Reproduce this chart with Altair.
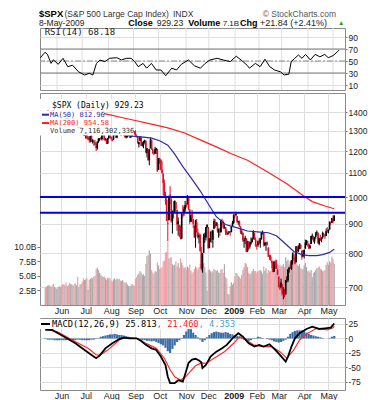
import altair as alt
import pandas as pd

# ---------------- data ----------------
months = ["Jun", "Jul", "Aug", "Sep", "Oct", "Nov", "Dec", "2009", "Feb", "Mar", "Apr", "May"]
month_start = [14, 35, 57, 78, 99, 122, 141, 163, 183, 202, 224, 245]   # trading-day index

open_ = [
    1389,1404,1403,1409,1424,1425,1425,1414,1391,1393,1376,1386,1390,1398,
    1400,1386,1377,1377,1400,1361,1358,1357,1336,1341,1358,1360,1349,1336,1341,1319,1317,1314,1316,1283,1279,
    1276,1285,1262,1263,1252,1274,1245,1249,1242,1227,1215,1246,1258,1261,1257,1278,1283,1253,1258,1236,1264,1281,
    1269,1253,1254,1283,1287,1266,1295,1305,1288,1283,1293,1298,1278,1267,1271,1278,1290,1267,1271,1283,1297,
    1288,1276,1272,1233,1250,1267,1227,1229,1245,1250,1189,1210,1157,1213,1255,1207,1188,1187,1205,1210,1114,
    1164,1160,1115,1098,1057,989,988,903,912,1010,994,909,942,943,980,951,899,895,874,849,939,940,953,
    969,971,1001,952,907,937,917,893,854,905,870,853,860,806,755,802,853,852,886,
    888,817,843,869,844,882,906,893,898,871,881,871,908,905,887,888,874,863,869,873,870,890,
    903,930,931,927,905,909,890,869,868,841,845,849,806,839,822,832,837,846,868,845,
    823,826,838,832,846,868,867,827,831,833,819,791,790,776,773,744,771,766,749,
    730,705,699,708,684,681,680,720,719,751,758,753,776,797,784,772,820,806,814,828,809,790,
    793,815,835,840,831,816,830,856,857,839,854,866,868,831,847,844,853,862,854,857,876,
    873,879,906,903,919,910]
high = [
    1404,1406,1420,1424,1426,1441,1426,1419,1401,1395,1388,1392,1406,1404,
    1400,1397,1389,1405,1400,1370,1366,1358,1353,1361,1366,1367,1349,1348,1342,1323,1326,1336,1316,1288,1291,
    1285,1292,1272,1273,1275,1278,1258,1254,1254,1234,1246,1262,1263,1268,1278,1291,1283,1263,1260,1264,1285,1285,
    1271,1260,1285,1292,1289,1297,1314,1309,1294,1301,1302,1301,1280,1277,1281,1294,1290,1276,1289,1301,1297,
    1303,1280,1273,1244,1274,1268,1243,1249,1255,1250,1214,1210,1211,1266,1255,1213,1197,1220,1215,1210,1167,
    1169,1160,1154,1098,1072,1021,1006,936,1006,1044,994,948,984,986,980,951,922,896,893,941,969,963,985,
    976,1007,1001,952,932,951,917,893,914,917,882,866,865,821,801,865,868,888,897,
    888,850,873,876,879,918,916,906,904,883,885,914,918,911,897,888,880,869,873,873,891,910,
    934,936,943,927,910,911,890,877,868,851,858,849,841,839,838,852,851,877,868,852,
    830,842,851,850,871,876,869,838,836,839,819,796,796,779,777,776,780,780,752,
    730,711,724,708,700,695,720,731,752,758,775,779,803,803,788,823,824,826,833,828,809,810,
    813,845,843,840,832,828,857,865,857,853,871,876,868,851,861,852,872,868,864,883,888,
    880,907,907,920,930,930]
low = [
    1386,1396,1402,1406,1415,1419,1406,1388,1389,1372,1372,1378,1388,1396,
    1377,1370,1370,1374,1359,1351,1351,1335,1333,1341,1350,1350,1333,1330,1315,1314,1305,1314,1283,1273,1273,
    1260,1261,1253,1240,1242,1244,1236,1225,1226,1200,1206,1239,1248,1255,1251,1276,1251,1251,1234,1234,1259,1264,
    1252,1247,1254,1276,1264,1262,1293,1289,1275,1276,1290,1275,1264,1261,1265,1278,1264,1263,1270,1283,1282,
    1272,1266,1237,1217,1247,1224,1221,1213,1236,1192,1170,1155,1134,1213,1206,1187,1180,1187,1187,1106,1114,
    1141,1112,1098,1007,996,970,909,840,912,972,903,865,919,938,952,875,858,853,846,846,922,928,944,
    959,971,949,899,906,907,884,850,818,869,848,832,806,748,741,801,834,842,886,
    815,817,836,834,818,882,885,892,868,851,857,868,895,881,882,860,860,861,866,858,870,890,
    899,919,927,902,896,888,864,862,837,818,830,804,804,811,815,828,835,846,844,821,
    812,821,829,818,845,862,822,823,808,825,789,780,777,755,742,744,752,752,735,
    699,692,699,677,667,672,680,713,714,741,753,749,765,781,766,772,806,805,814,814,780,790,
    784,815,826,822,814,815,830,845,836,831,848,860,832,826,840,836,848,852,847,857,868,
    866,879,897,903,901,909]
close = [
    1403.6,1403.0,1408.7,1423.6,1425.4,1426.6,1413.4,1390.7,1394.4,1375.9,1385.4,1390.8,1398.3,1400.4,
    1385.7,1377.7,1377.2,1404.1,1360.7,1361.8,1358.4,1335.5,1339.9,1360.0,1360.1,1350.9,1337.8,1342.8,1317.9,1318.0,1314.3,1322.0,1283.2,1278.4,1280.0,
    1284.9,1261.5,1262.9,1252.3,1273.7,1244.7,1253.4,1239.5,1228.3,1214.9,1245.4,1260.3,1260.7,1260.0,1277.0,1282.2,1252.5,1257.8,1234.4,1263.2,1284.3,1267.4,
    1260.3,1249.0,1284.9,1289.2,1266.1,1296.3,1305.3,1289.6,1285.8,1292.9,1298.2,1278.6,1266.7,1274.5,1277.7,1292.2,1266.8,1271.5,1281.7,1300.7,1282.8,
    1277.6,1275.0,1236.8,1242.3,1267.8,1224.5,1232.0,1249.1,1251.7,1192.7,1213.6,1156.4,1206.5,1255.1,1207.1,1188.2,1185.9,1209.2,1213.3,1106.4,1166.4,
    1161.1,1114.3,1099.2,1056.9,996.2,984.9,909.9,899.2,1003.4,998.0,907.8,946.4,940.6,985.4,955.1,896.8,908.1,876.8,848.9,940.5,930.1,954.1,968.8,
    966.3,1005.8,952.8,904.9,931.0,919.2,899.0,852.3,911.3,873.3,850.8,859.1,806.6,752.4,800.0,851.8,857.4,887.7,896.2,
    816.2,848.8,870.7,845.2,876.1,909.7,888.7,899.2,873.6,879.7,868.6,913.2,904.4,885.3,887.9,871.6,863.2,868.2,872.8,869.4,890.6,903.3,
    931.8,927.5,934.7,906.7,909.7,890.4,870.3,871.8,842.6,843.7,850.1,805.2,840.2,827.5,832.0,836.6,845.7,874.1,845.1,825.9,
    825.4,838.5,832.2,845.9,868.6,869.9,827.2,833.7,835.2,826.8,789.2,788.4,778.9,770.1,743.3,773.1,764.9,752.8,735.1,
    700.8,696.3,712.9,682.5,683.4,676.5,719.6,721.4,750.7,756.6,753.9,778.1,794.4,784.0,768.5,822.9,806.1,813.9,832.9,815.9,787.5,797.9,
    811.1,834.4,842.5,835.5,815.6,825.2,856.6,858.7,841.5,852.1,865.3,869.6,832.4,850.1,843.6,851.9,866.2,857.5,855.2,873.6,872.8,
    877.5,907.2,903.8,919.5,907.4,929.23]
volume = [  # billions
    3.0,3.2,3.3,3.4,3.3,3.1,3.4,3.6,3.1,2.9,2.8,3.0,3.2,3.1,
    3.4,3.5,3.6,3.4,3.9,3.2,3.4,3.8,3.6,3.5,3.3,3.6,3.7,3.4,4.8,3.1,3.5,3.6,4.0,4.6,4.3,
    4.4,4.6,2.6,4.3,4.5,4.7,4.6,4.9,5.0,6.2,6.4,6.0,5.5,5.2,5.0,4.8,4.9,4.6,4.3,4.7,4.5,4.7,
    4.2,4.0,4.4,4.6,4.3,4.5,4.4,4.5,4.2,4.1,4.3,3.9,3.8,3.9,3.5,3.3,3.2,3.3,3.6,3.4,3.3,
    4.5,4.8,5.2,5.4,5.8,5.6,5.1,5.3,5.0,7.1,8.4,8.6,9.4,8.8,6.0,5.6,5.3,5.8,5.7,7.3,6.8,
    6.2,6.3,6.5,7.5,7.6,9.0,9.1,10.9,8.0,8.1,8.2,7.0,6.8,6.9,7.5,6.6,7.2,6.4,8.0,7.3,6.8,6.3,6.5,
    6.0,6.6,6.4,6.9,5.9,5.4,5.7,6.2,6.6,6.4,6.0,6.5,7.1,8.6,8.9,7.2,6.5,5.6,2.5,
    6.0,6.1,5.8,5.6,5.8,6.2,6.0,5.9,6.0,5.6,5.5,6.1,6.2,5.5,7.0,4.8,4.5,1.9,1.8,3.2,3.9,3.5,
    3.8,4.8,5.5,5.4,5.0,4.8,4.5,5.2,6.0,6.5,7.2,7.0,6.5,5.5,5.3,5.4,5.8,6.2,5.8,5.9,
    5.6,5.8,5.9,6.0,5.8,5.4,6.6,5.9,6.3,5.5,6.0,5.8,5.9,6.5,7.0,7.1,6.9,6.4,7.0,
    6.8,6.9,6.6,6.8,7.0,6.5,8.2,7.5,7.8,6.9,7.0,7.2,8.0,7.6,7.4,7.3,6.9,6.7,7.0,6.3,6.1,6.2,
    6.8,7.2,6.5,5.8,5.9,5.6,6.0,4.8,5.5,5.7,6.0,6.3,6.4,6.6,6.2,6.1,5.8,5.9,6.0,6.9,7.4,
    6.9,7.5,7.3,8.3,7.9,7.1]

ma50_day = [49,60,70,78,85,92,99,106,112,119,126,134,142,148,156,167,175,186,193,200,208,215,222,228,235,240,246,250]
ma50_val = [1330,1295,1277,1272,1268,1263,1250,1228,1185,1128,1080,1025,966,925,897,884,874,870,868,858,830,806,796,793,793,796,803,812.96]
ma200_day = [0,20,40,52,70,92,106,120,134,148,161,175,192,209,223,231,242,250]
ma200_val = [1440,1425,1405,1390,1365,1335,1315,1290,1254,1220,1187,1157,1105,1054,1006,982,965,954.58]
levels = [1000, 940]

rsi_day = [0,4,6,9,11,15,19,23,27,32,37,41,44,47,50,54,58,64,68,72,76,79,82,86,89,93,97,101,105,110,
           114,118,124,129,134,138,142,148,153,159,164,169,173,175,180,184,188,192,196,201,204,208,210,213,216,
           219,222,226,230,234,238,241,245,249,250]
rsi_val = [55.5,64.5,61,46,52,44.5,54.5,40.5,43,32,26.7,29.5,26.7,46,51.7,49,54.5,55.5,51.7,54.5,54.5,49,40.5,46,38,46,35,35,25.5,38,
           35,44.5,51.7,42,38,46,51.7,54.5,51.7,49,58,50,43,38,46,40.5,53,40.5,35,32,26.7,28,49,54.5,60,
           54.5,61,51.7,61,57,61,55.5,59,66,68.18]
rsi_bands = [30, 70]
rsi_mid = [50]

macd_day = [0,6,11,19,26,34,40,44,47,52,58,64,68,73,79,83,87,92,96,100,104,106,108,112,115,119,122,124,127,130,
            133,135,136,139,143,148,153,157,162,167,171,176,181,185,189,194,199,203,208,210,213,216,220,226,231,237,242,247,250]
macd_val = [15,14.7,9,0,-8.3,-19.8,-28.4,-34,-29.6,-17,-8.3,-1,1.4,0.3,0.3,-4.3,-11,-17,-19.8,-31,-45.7,-66,-77,-77,-72,-74.5,-55,-42,-36.5,-35,
            -38,-41,-51,-45.7,-31.3,-22.7,-17,-11,0.3,9,3,-8.3,-14,-11,-14,-10,-19.8,-28.4,-40,-31.3,-14,0.3,9,16.4,20.3,16.4,17.6,18.6,25.813]
signal_day = [0,11,26,37,44,47,54,65,70,79,87,96,103,108,112,117,121,126,130,135,139,146,155,163,168,174,180,188,196,203,209,215,220,227,235,244,249,250]
signal_val = [16.5,11,-5.5,-17,-28,-29,-20,-1,1.4,0.3,-8.3,-17,-34,-54,-66,-71.5,-67,-56,-47,-42,-43,-34,-22.7,-8.3,3,-2.6,-11,-14,-14,-22.7,-34,-19.8,-2.6,9,17.6,14.7,18.6,21.46]
hist_day = list(range(0, 251, 2))
hist_val = [-1,-2,-2,-2,-3,-3,-3,-3,-3,-3,
            -2,-3,-3,-3,-2,-2,-3,-3,-3,-3,
            -2,-2,-1,1,3,4,5,6,7,7,
            8,7,6,6,5,4,3,2,1,0,
            -1,-2,-3,-3,-4,-4,-5,-4,-6,-8,
            -10,-12,-16,-22,-25,-18,-12,-6,-3,1,
            6,12,18,16,10,6,2,-2,-6,-3,
            2,6,9,11,12,11,10,10,11,10,
            8,7,5,4,3,1,-2,-4,-4,-3,
            -1,1,3,2,1,0,-1,-2,-3,-5,
            -6,-7,-6,-4,-2,3,8,11,13,14,
            14,14,13,10,8,6,5,4,3,2,
            1,0,0,1,3,4.353]

n = len(close)
assert len(open_) == len(high) == len(low) == len(volume) == n
assert len(hist_day) == len(hist_val)
up = [close[0] >= open_[0]] + [close[k] >= close[k - 1] for k in range(1, n)]
df = pd.DataFrame({"i": list(range(n)), "open": open_, "high": high, "low": low,
                   "close": close, "vol": volume, "up": up})

# ---------------- styling helpers ----------------
GRID = "#dedede"
SANS = "Liberation Sans"
MONO = "DejaVu Sans Mono"
W = 305
UPC, DNC = "#000000", "#e0102a"
MA50C, MA200C = "#2b2ba8", "#ff2020"
ONE = pd.DataFrame({"k": [0]})

XS = alt.Scale(domain=[-0.25, 255], nice=False, zero=False)
names = ",".join("'%s'" % m for m in months)
starts = ",".join(str(s) for s in month_start)
LABEL_EXPR = "[%s][indexof([%s], datum.value)]" % (names, starts)

X_AXIS = alt.Axis(values=month_start, grid=True, gridColor=GRID, gridWidth=1, ticks=False,
                  tickSize=0, domain=False, title=None, labels=True, labelExpr=LABEL_EXPR,
                  labelPadding=1.5, labelFontSize=9, labelFont=SANS, labelColor="#222",
                  labelFlush=False, labelOverlap=False,
                  labelFontWeight={"condition": {"test": "datum.value == 163", "value": "bold"},
                                   "value": "normal"})


def X(show=True):
    return alt.X("i:Q", scale=XS, axis=X_AXIS if show else None)


def right_axis(values, expr=None):
    kw = dict(orient="right", values=values, grid=True, gridColor=GRID, tickSize=2,
              tickColor="#777", labelPadding=1, labelFontSize=8.5, labelFont=SANS,
              labelColor="#222", domain=False, title=None)
    if expr:
        kw["labelExpr"] = expr
    return alt.Axis(**kw)


def txt(s, x, y, size, color="#222", weight="normal", font=SANS, align="left", baseline="alphabetic"):
    return alt.Chart(ONE).mark_text(text=s, fontSize=size, color=color, fontWeight=weight,
                                    font=font, align=align, baseline=baseline).encode(
        x=alt.value(x), y=alt.value(y))


def box(x1, x2, y1, y2):
    return alt.Chart(ONE).mark_rect(color="white").encode(
        x=alt.value(x1), x2=alt.value(x2), y=alt.value(y1), y2=alt.value(y2))


def seg(x1, x2, y, color, w):
    return alt.Chart(ONE).mark_rule(color=color, strokeWidth=w).encode(
        x=alt.value(x1), x2=alt.value(x2), y=alt.value(y))


# ---------------- RSI panel (with header) ----------------
RY = alt.Scale(domain=[1.67, 105], nice=False, zero=False)
RAX = right_axis([10, 30, 50, 70, 90])
rsi_grid = alt.Chart(pd.DataFrame({"i": month_start})).mark_rule(color=GRID, strokeWidth=1).encode(
    x=X(False))
rsi_line = alt.Chart(pd.DataFrame({"i": rsi_day, "v": rsi_val})).mark_line(
    color="black", strokeWidth=1).encode(x=X(False), y=alt.Y("v:Q", scale=RY, axis=RAX))
rsi_lv = alt.Chart(pd.DataFrame({"v": rsi_bands})).mark_rule(color="#7a7a7a", strokeWidth=1).encode(
    y=alt.Y("v:Q", scale=RY, axis=RAX))
rsi_m = alt.Chart(pd.DataFrame({"v": rsi_mid})).mark_rule(
    color="#8a8a8a", strokeWidth=1, strokeDash=[6, 2, 2, 2]).encode(y=alt.Y("v:Q", scale=RY, axis=RAX))

header = [
    txt("$SPX", -1, -19, 9.5, "#000", "bold", baseline="top"),
    txt("(S&P 500 Large Cap Index)", 24.5, -18.4, 8.5, "#333", baseline="top"),
    txt("INDX", 133, -18.4, 8.5, "#333", baseline="top"),
    txt("\u00a9 StockCharts.com", 296, -18.4, 8.5, "#555", align="right", baseline="top"),
    txt("8-May-2009", -1, -2.3, 8.5, "#222"),
    txt("Close", 88.3, -2.3, 9, "#000", "bold"),
    txt("929.23", 116.7, -2.3, 8.7, "#222"),
    txt("Volume", 148.3, -2.3, 9, "#000", "bold"),
    txt("7.1B", 182.7, -2.3, 8, "#222"),
    txt("Chg", 200, -2.3, 9, "#000", "bold"),
    txt("+21.84 (+2.41%)", 220, -2.3, 9, "#222"),
    txt("\u25b2", 298, -2.8, 6.5, "#2a9d2a"),
    txt("RSI(14) 68.18", 4.7, 4, 9, "#222", font=MONO, baseline="middle"),
]
rsi_chart = alt.layer(rsi_grid, rsi_lv, rsi_m, rsi_line, *header).properties(width=W, height=62)

# ---------------- price panel ----------------
PY = alt.Scale(type="log", domain=[652, 1510], nice=False, zero=False)
PAX = right_axis([700, 800, 900, 1000, 1100, 1200, 1300, 1400], "'' + datum.value")
candle_color = alt.condition("datum.up", alt.value(UPC), alt.value(DNC))
vol_color = alt.condition("datum.up", alt.value("#a9a9a9"), alt.value("#f2a0a8"))

base = alt.Chart(df)
vol = base.mark_bar(size=1.2, clip=True).encode(
    x=X(),
    y=alt.Y("vol:Q", scale=alt.Scale(domain=[0, 36.4], nice=False),
            axis=alt.Axis(orient="left", values=[2.5, 5, 7.5, 10],
                          labelExpr="format(datum.value, '.1f') + 'B'", grid=False,
                          tickSize=3, tickColor="#777", labelPadding=1, labelFontSize=8.5,
                          labelFont=SANS, labelColor="#222", domain=False, title=None)),
    color=vol_color)
wick = base.mark_rule(strokeWidth=1, clip=True).encode(
    x=X(), y=alt.Y("low:Q", scale=PY, axis=PAX), y2="high:Q", color=candle_color)
body = base.mark_bar(size=1.6, clip=True).encode(
    x=X(), y=alt.Y("open:Q", scale=PY, axis=PAX), y2="close:Q", color=candle_color)
ma50 = alt.Chart(pd.DataFrame({"i": ma50_day, "v": ma50_val})).mark_line(
    color=MA50C, strokeWidth=1.2, clip=True).encode(x=X(), y=alt.Y("v:Q", scale=PY, axis=PAX))
ma200 = alt.Chart(pd.DataFrame({"i": ma200_day, "v": ma200_val})).mark_line(
    color=MA200C, strokeWidth=1.2, clip=True).encode(x=X(), y=alt.Y("v:Q", scale=PY, axis=PAX))
hl = alt.Chart(pd.DataFrame({"v": levels})).mark_rule(color="#0000ee", strokeWidth=2).encode(
    y=alt.Y("v:Q", scale=PY, axis=PAX))

price_legend = [
    box(0, 105, 6, 17.5), box(0, 64, 17.5, 25.8), box(0, 68, 25.8, 34.2), box(0, 94, 34.2, 42.5),
    txt("$SPX (Daily) 929.23", 12, 12.7, 8, "#000", font=MONO, baseline="middle"),
    seg(2, 9, 21.7, MA50C, 2),
    txt("MA(50) 812.96", 10, 21.7, 7, MA50C, font=MONO, baseline="middle"),
    seg(2, 9, 30, MA200C, 2),
    txt("MA(200) 954.58", 10, 30, 7, MA200C, font=MONO, baseline="middle"),
    txt("Volume 7,116,302,336", 10, 38.3, 7, "#333", font=MONO, baseline="middle"),
]
price_inner = alt.layer(wick, body, ma50, ma200, hl, *price_legend)
price_chart = alt.layer(vol, price_inner).resolve_scale(y="independent").properties(width=W, height=212)

# ---------------- MACD panel ----------------
MY = alt.Scale(domain=[-88.8, 35.3], nice=False, zero=False)
MAX = right_axis([25, 0, -25, -50, -75], "datum.value < 0 ? '-' + abs(datum.value) : '' + datum.value")
hist = alt.Chart(pd.DataFrame({"i": hist_day, "v": hist_val})).mark_bar(
    size=2.2, color="#3d6fa8", clip=True).encode(x=X(), y=alt.Y("v:Q", scale=MY, axis=MAX))
sig = alt.Chart(pd.DataFrame({"i": signal_day, "v": signal_val})).mark_line(
    color="#ff2a2a", strokeWidth=1.2, clip=True).encode(x=X(), y=alt.Y("v:Q", scale=MY, axis=MAX))
macd = alt.Chart(pd.DataFrame({"i": macd_day, "v": macd_val})).mark_line(
    color="black", strokeWidth=1.8, clip=True).encode(x=X(), y=alt.Y("v:Q", scale=MY, axis=MAX))
cw = 8.7 * 0.602
macd_legend = [
    box(0, 198, 1, 11),
    seg(1, 10, 6, "#000", 2),
    txt("MACD(12,26,9) 25.813", 12, 6, 8.7, "#000", font=MONO, baseline="middle"),
    txt(", 21.460", 12 + 20 * cw, 6, 8.7, "#ff2020", font=MONO, baseline="middle"),
    txt(", 4.353", 12 + 28 * cw, 6, 8.7, "#45a0e0", font=MONO, baseline="middle"),
]
macd_chart = alt.layer(hist, sig, macd, *macd_legend).properties(width=W, height=72)

chart = alt.vconcat(rsi_chart, price_chart, macd_chart, spacing=1).properties(
    padding={"left": 5, "top": 0, "right": 5, "bottom": 0}
).configure_view(stroke="#8a8a8a", strokeWidth=1)

chart.save("out.html", embed_options={"renderer": "svg", "actions": False})
